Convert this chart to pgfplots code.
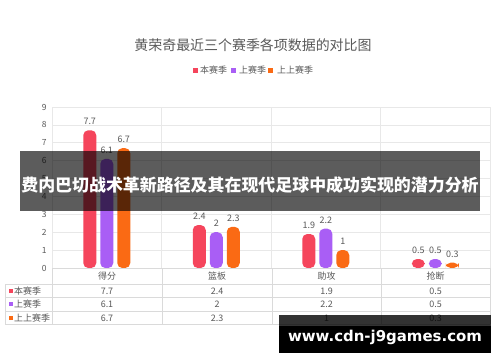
\documentclass[border=0pt]{standalone}
\usepackage{pgfplots}
\pgfplotsset{compat=1.18}
\usepackage{fontspec}
\setmainfont{Noto Sans CJK SC}
\newfontfamily\wmfont{DejaVu Sans}
\definecolor{cA}{HTML}{F5455C}
\definecolor{cB}{HTML}{A95EF5}
\definecolor{cC}{HTML}{FA6A14}
\definecolor{txt}{HTML}{595959}
\definecolor{gridc}{HTML}{E8E8E8}
\definecolor{tabc}{HTML}{DADADA}
\begin{document}
\begin{tikzpicture}[x=1bp,y=1bp]
\fill[white] (0,0) rectangle (500,362);
\begin{axis}[at={(52bp,94bp)}, anchor=south west, scale only axis,
  width=438bp, height=161bp,
  xmin=0, xmax=4, ymin=0, ymax=9,
  ybar, bar width=13bp,
  xtick={0,1,2,3,4}, xticklabels={},
  ytick={0,...,9},
  ymajorgrids, xmajorgrids,
  grid style={gridc, line width=0.6pt},
  axis line style={draw=none}, major tick length=0pt,
  yticklabel style={font=\fontsize{8.5}{9}\selectfont, text=txt, xshift=-2bp},
  /pgf/number format/assume math mode=true,
  nodes near coords,
  nodes near coords style={font=\fontsize{9}{10}\selectfont, text=txt, yshift=2bp},
  clip=false]
\addplot[fill=cA, draw=none, bar shift=-17bp, rounded corners=5bp] coordinates {(0.5,7.7) (1.5,2.4) (2.5,1.9) (3.5,0.5)};
\addplot[fill=cB, draw=none, bar shift=0bp, rounded corners=5bp] coordinates {(0.5,6.1) (1.5,2) (2.5,2.2) (3.5,0.5)};
\addplot[fill=cC, draw=none, bar shift=17bp, rounded corners=5bp] coordinates {(0.5,6.7) (1.5,2.3) (2.5,1) (3.5,0.3)};
\end{axis}
% title and legend
\node[text=txt, font=\fontsize{14}{16}\selectfont] at (253,317) {黄荣奇最近三个赛季各项数据的对比图};
\begin{scope}[font=\fontsize{9}{10}\selectfont]
\fill[cA] (193,289.5) rectangle (198,294.5);
\node[text=txt, anchor=west, inner sep=0] at (200,292) {本赛季};
\fill[cB] (231,289.5) rectangle (236,294.5);
\node[text=txt, anchor=west, inner sep=0] at (239,292) {上赛季};
\fill[cC] (268,289.5) rectangle (273,294.5);
\node[text=txt, anchor=west, inner sep=0] at (277,292) {上上赛季};
\end{scope}
% data table
\begin{scope}[draw=tabc, line width=0.6pt]
\draw (52,94) -- (490,94);
\draw (5,78) -- (490,78);
\draw (5,65) -- (490,65);
\draw (5,51) -- (490,51);
\draw (5,38) -- (490,38);
\draw (5,78) -- (5,38);
\foreach \xx in {52,162,272,381,490} {\draw (\xx,94) -- (\xx,38);}
\end{scope}
\begin{scope}[font=\fontsize{9}{10}\selectfont, text=txt]
\node at (107,86) {得分}; \node at (217,86) {篮板}; \node at (326.5,86) {助攻}; \node at (435.5,86) {抢断};
\fill[cA] (9,69) rectangle (13,73); \node[anchor=west, inner sep=0] at (14,71) {本赛季};
\fill[cB] (9,56) rectangle (13,60); \node[anchor=west, inner sep=0] at (14,58) {上赛季};
\fill[cC] (9,42) rectangle (13,46); \node[anchor=west, inner sep=0] at (14,44) {上上赛季};
\node at (107,71) {7.7}; \node at (217,71) {2.4}; \node at (326.5,71) {1.9}; \node at (435.5,71) {0.5};
\node at (107,58) {6.1}; \node at (217,58) {2}; \node at (326.5,58) {2.2}; \node at (435.5,58) {0.5};
\node at (107,44) {6.7}; \node at (217,44) {2.3}; \node at (326.5,44) {1}; \node at (435.5,44) {0.3};
\end{scope}
% banner
\fill[black, opacity=0.64] (20,151) rectangle (480,211);
\node[text=white, font=\fontsize{17}{19}\selectfont\bfseries] at (250,177) {费内巴切战术革新路径及其在现代足球中成功实现的潜力分析};
% watermark
\fill[black, opacity=0.8] (279,36) rectangle (491,47);
\fill[black] (279,9) rectangle (491,36);
\node[text=white, font=\wmfont\bfseries\fontsize{15}{17}\selectfont] at (385,25) {www.cdn-j9games.com};
\end{tikzpicture}
\end{document}
